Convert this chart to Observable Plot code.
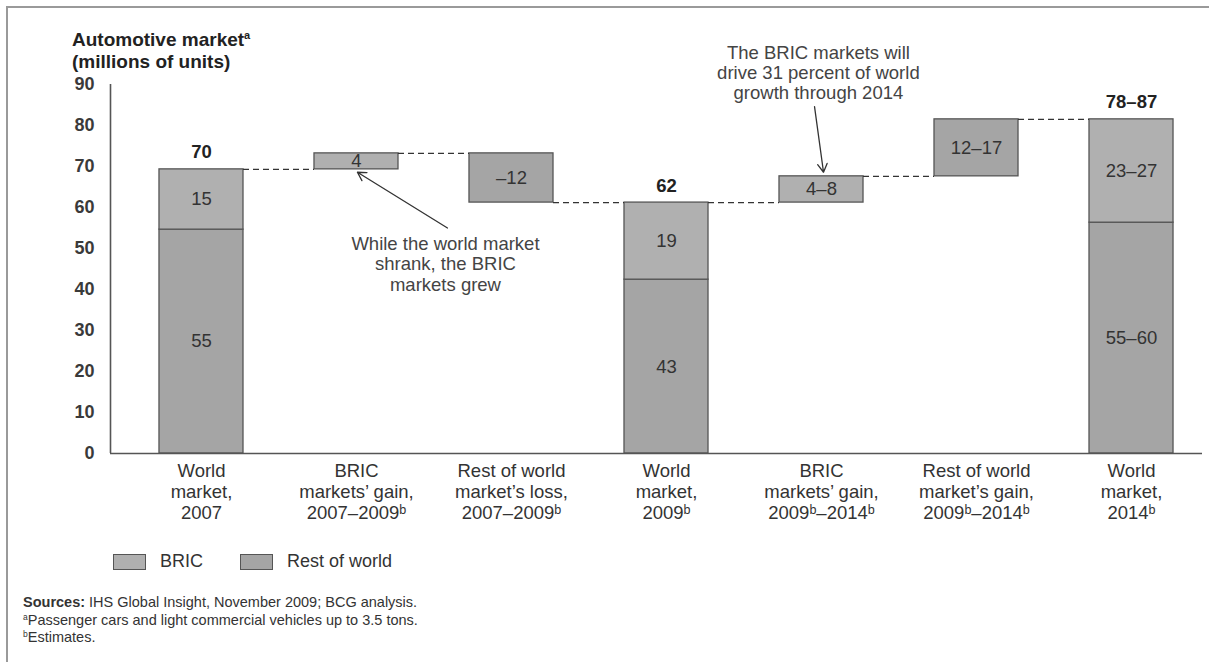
<!DOCTYPE html>
<html>
<head>
<meta charset="utf-8">
<script src="https://cdn.jsdelivr.net/npm/d3@7"></script>
<script src="https://cdn.jsdelivr.net/npm/@observablehq/plot@0.6"></script>
<style>
  html, body { margin: 0; padding: 0; background: #fff; }
  body { width: 1209px; height: 662px; position: relative; overflow: hidden; font-family: "Liberation Sans", Arial, sans-serif; color: #333; }
  #frame { position: absolute; left: 6px; top: 6px; width: 1240px; height: 720px; border: 2px solid #9a9a9a; box-sizing: border-box; }
  #chart { position: absolute; left: 0; top: 0; }
  #title { position: absolute; left: 72px; top: 29px; font-weight: 700; font-size: 19px; line-height: 21.5px; color: #222; }
  #title sup { font-size: 11px; line-height: 0; vertical-align: 7px; }
  #legend { position: absolute; left: 113px; top: 551px; display: flex; align-items: center; font-size: 18px; color: #333; }
  .sw { width: 33px; height: 16px; border: 1.3px solid #555; box-sizing: border-box; margin-right: 14px; }
  .item { display: flex; align-items: center; margin-right: 37px; }
  #notes { position: absolute; left: 23px; top: 594px; font-size: 14.5px; line-height: 17.5px; color: #333; }
  #notes sup { font-size: 8.5px; line-height: 0; vertical-align: 5px; }
</style>
</head>
<body>
<div id="frame"></div>
<div id="title">Automotive market<sup>a</sup><br>(millions of units)</div>
<div id="chart"></div>
<div id="legend"></div>
<div id="notes"><b>Sources:</b> IHS Global Insight, November 2009; BCG analysis.<br><sup>a</sup>Passenger cars and light commercial vehicles up to 3.5 tons.<br><sup>b</sup>Estimates.</div>
<script>
// ---- data ----
const xLabels = [
  "World\nmarket,\n2007",
  "BRIC\nmarkets’ gain,\n2007–2009ᵇ",
  "Rest of world\nmarket’s loss,\n2007–2009ᵇ",
  "World\nmarket,\n2009ᵇ",
  "BRIC\nmarkets’ gain,\n2009ᵇ–2014ᵇ",
  "Rest of world\nmarket’s gain,\n2009ᵇ–2014ᵇ",
  "World\nmarket,\n2014ᵇ"
];
const kinds = ["total", "change", "change", "total", "change", "change", "total"];
const restOfWorld = [54.6, 0, -12, 42.4, 0, 13.9, 56.3];
const bric = [14.7, 3.9, 0, 18.8, 6.4, 0, 25.2];
const restLabels = ["55", "", "–12", "43", "", "12–17", "55–60"];
const bricLabels = ["15", "4", "", "19", "4–8", "", "23–27"];
const totalLabels = ["70", "", "", "62", "", "", "78–87"];
const yTicks = [0, 10, 20, 30, 40, 50, 60, 70, 80, 90];
const seriesNames = ["BRIC", "Rest of world"];
const seriesColors = ["#b0b0b0", "#a5a5a5"];
const annotations = [
  {x: 1.574, y: 46.3, text: "While the world market\nshrank, the BRIC\nmarkets grew"},
  {x: 3.98, y: 92.9, text: "The BRIC markets will\ndrive 31 percent of world\ngrowth through 2014"}
];
const arrows = [
  {x1: 1.587, y1: 55.0, x2: 1.006, y2: 68.6},
  {x1: 3.955, y1: 84.6, x2: 4.013, y2: 68.6}
];

// ---- build segments ----
const half = 0.271;
const segments = [];
const totals = [];
const connectors = [];
let running = 0;
kinds.forEach((k, i) => {
  if (k === "total") {
    segments.push({i, series: "Rest of world", y1: 0, y2: restOfWorld[i], label: restLabels[i]});
    segments.push({i, series: "BRIC", y1: restOfWorld[i], y2: restOfWorld[i] + bric[i], label: bricLabels[i]});
    running = restOfWorld[i] + bric[i];
    totals.push({i, y: running, label: totalLabels[i]});
  } else {
    if (bric[i] !== 0) {
      segments.push({i, series: "BRIC", y1: running, y2: running + bric[i], label: bricLabels[i]});
      running += bric[i];
    }
    if (restOfWorld[i] !== 0) {
      segments.push({i, series: "Rest of world", y1: running, y2: running + restOfWorld[i], label: restLabels[i]});
      running += restOfWorld[i];
    }
  }
  if (i < kinds.length - 1) connectors.push({x1: i + half, x2: i + 1 - half, y: running});
});

const color = {domain: seriesNames, range: seriesColors};
const font = "'Liberation Sans', Arial, sans-serif";

const chart = Plot.plot({
  width: 1209,
  height: 530,
  marginLeft: 110,
  marginRight: 7,
  marginTop: 84,
  marginBottom: 77,
  style: {fontFamily: font, color: "#333", background: "transparent", overflow: "visible"},
  x: {type: "linear", domain: [-0.587, 6.458]},
  y: {domain: [0, 90]},
  color,
  marks: [
    Plot.axisY({ticks: yTicks, tickSize: 0, tickPadding: 16, fontSize: 18, fontWeight: 700, fill: "#3a3a3a", label: null}),
    Plot.axisX({ticks: d3.range(xLabels.length), tickFormat: i => xLabels[i], tickSize: 0, tickPadding: 9, fontSize: 18.5, lineHeight: 1.13, fill: "#333", label: null}),
    Plot.rect(segments, {x1: d => d.i - half, x2: d => d.i + half, y1: "y1", y2: "y2", fill: "series", stroke: "#555", strokeWidth: 1.3}),
    Plot.ruleY(connectors, {x1: "x1", x2: "x2", y: "y", stroke: "#333", strokeWidth: 1.2, strokeDasharray: "6,4"}),
    Plot.ruleY([0], {stroke: "#555", strokeWidth: 1.6}),
    Plot.ruleX([-0.587], {y1: 0, y2: 90, stroke: "#555", strokeWidth: 1.6}),
    Plot.text(segments, {x: "i", y: d => (d.y1 + d.y2) / 2, text: "label", fontSize: 18.5, fill: "#333"}),
    Plot.text(totals, {x: "i", y: "y", text: "label", dy: -17, fontSize: 18.5, fontWeight: 700, fill: "#222"}),
    Plot.text(annotations, {x: "x", y: "y", text: "text", fontSize: 18.5, lineHeight: 1.1, fill: "#444"}),
    Plot.arrow(arrows, {x1: "x1", y1: "y1", x2: "x2", y2: "y2", stroke: "#333", strokeWidth: 1.3, headLength: 11})
  ]
});
document.getElementById("chart").appendChild(chart);

// legend
const legend = document.getElementById("legend");
seriesNames.forEach((name, k) => {
  const item = document.createElement("div");
  item.className = "item";
  const sw = document.createElement("div");
  sw.className = "sw";
  sw.style.background = seriesColors[k];
  const lab = document.createElement("span");
  lab.textContent = name;
  item.appendChild(sw);
  item.appendChild(lab);
  legend.appendChild(item);
});
</script>
</body>
</html>
